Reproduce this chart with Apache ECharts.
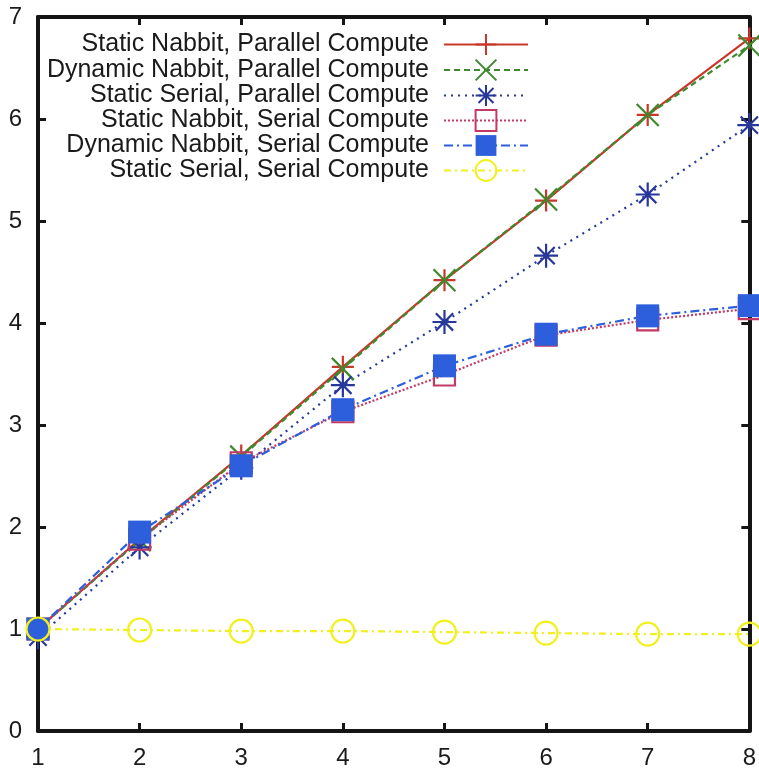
<!DOCTYPE html>
<html><head><meta charset="utf-8">
<script src="https://cdn.jsdelivr.net/npm/echarts@6/dist/echarts.min.js"></script>
<style>html,body{margin:0;padding:0;background:#fff}#c{width:759px;height:771px}</style>
</head><body><div id="c"></div>
<script>
const xValues = [1, 2, 3, 4, 5, 6, 7, 8];
const yTicks = [0, 1, 2, 3, 4, 5, 6, 7];
const seriesNames = [
  'Static Nabbit, Parallel Compute',
  'Dynamic Nabbit, Parallel Compute',
  'Static Serial, Parallel Compute',
  'Static Nabbit, Serial Compute',
  'Dynamic Nabbit, Serial Compute',
  'Static Serial, Serial Compute'
];
const staticNabbitParallel = [1.0, 1.88, 2.70, 3.57, 4.42, 5.20, 6.04, 6.79];
const dynamicNabbitParallel = [1.0, 1.87, 2.69, 3.55, 4.42, 5.21, 6.04, 6.72];
const staticSerialParallel = [0.92, 1.80, 2.58, 3.39, 4.01, 4.66, 5.26, 5.94];
const staticNabbitSerial = [1.0, 1.88, 2.63, 3.13, 3.49, 3.88, 4.03, 4.14];
const dynamicNabbitSerial = [1.0, 1.95, 2.60, 3.15, 3.58, 3.89, 4.07, 4.17];
const staticSerialSerial = [1.0, 0.99, 0.98, 0.98, 0.97, 0.96, 0.95, 0.95];

const values = [staticNabbitParallel, dynamicNabbitParallel, staticSerialParallel,
  staticNabbitSerial, dynamicNabbitSerial, staticSerialSerial];

const colors = ['#c8382a', '#3d8a2e', '#27379a', '#c23a64', '#2d5fdc', '#f2f01e'];
const lineTypes = ['solid', [6, 4], [2, 5], [2, 2], [9, 4, 2, 4], [7, 4, 2, 4]];
const symbols = [
  'path://M0,-1L0,1M-1,0L1,0',
  'path://M-1,-1L1,1M-1,1L1,-1',
  'path://M0,-1L0,1M-1,0L1,0M-0.72,-0.72L0.72,0.72M-0.72,0.72L0.72,-0.72',
  'rect', 'rect', 'circle'
];
const symbolSizes = [22, 22, 24, 21, 23, 23];
const fills = ['#c8382a', '#3d8a2e', '#27379a', 'transparent', '#2d5fdc', 'transparent'];

const series = seriesNames.map((name, i) => ({
  name: name,
  type: 'line',
  data: xValues.map((x, j) => [x, values[i][j]]),
  symbol: symbols[i],
  symbolSize: symbolSizes[i],
  showAllSymbol: true,
  clip: false,
  lineStyle: { color: colors[i], width: 2.2, type: lineTypes[i] },
  itemStyle: { color: fills[i], borderColor: colors[i], borderWidth: i === 4 ? 0 : 2.2 },
  emphasis: { disabled: true },
  animation: false
}));

const rowCenters = [45, 70.5, 96, 121, 146, 171];
const legends = seriesNames.map((name, i) => ({
  data: [name],
  right: 230,
  top: rowCenters[i] - 13,
  padding: 0,
  align: 'right',
  itemWidth: 84,
  itemHeight: 26,
  itemGap: 0,
  selectedMode: false,
  textStyle: { fontFamily: 'Liberation Sans, Arial, sans-serif', fontSize: 25, color: '#1a1a1a', padding: [0, 10, 0, 0] }
}));

const axisFont = { fontFamily: 'Liberation Sans, Arial, sans-serif', fontSize: 24, color: '#1a1a1a' };
const axisLine = { show: true, onZero: false, lineStyle: { color: '#151515', width: 4 } };
const tick = { show: true, inside: true, length: 8, lineStyle: { color: '#151515', width: 3 } };

const chart = echarts.init(document.getElementById('c'), null, { renderer: 'canvas' });
chart.setOption({
  animation: false,
  backgroundColor: '#fff',
  grid: { left: 38, right: 9, top: 17, bottom: 40, containLabel: false },
  legend: legends,
  xAxis: [
    { type: 'value', min: 1, max: 8, interval: 1, position: 'bottom',
      axisLine: axisLine, axisTick: tick, splitLine: { show: false },
      axisLabel: Object.assign({ margin: 15, formatter: v => String(v) }, axisFont) },
    { type: 'value', min: 1, max: 8, interval: 1, position: 'top',
      axisLine: axisLine, axisTick: tick, splitLine: { show: false }, axisLabel: { show: false } }
  ],
  yAxis: [
    { type: 'value', min: yTicks[0], max: yTicks[yTicks.length - 1], interval: 1, position: 'left',
      axisLine: axisLine, axisTick: tick, splitLine: { show: false },
      axisLabel: Object.assign({ margin: 16 }, axisFont) },
    { type: 'value', min: yTicks[0], max: yTicks[yTicks.length - 1], interval: 1, position: 'right',
      axisLine: axisLine, axisTick: tick, splitLine: { show: false }, axisLabel: { show: false } }
  ],
  series: series
});
</script></body></html>
